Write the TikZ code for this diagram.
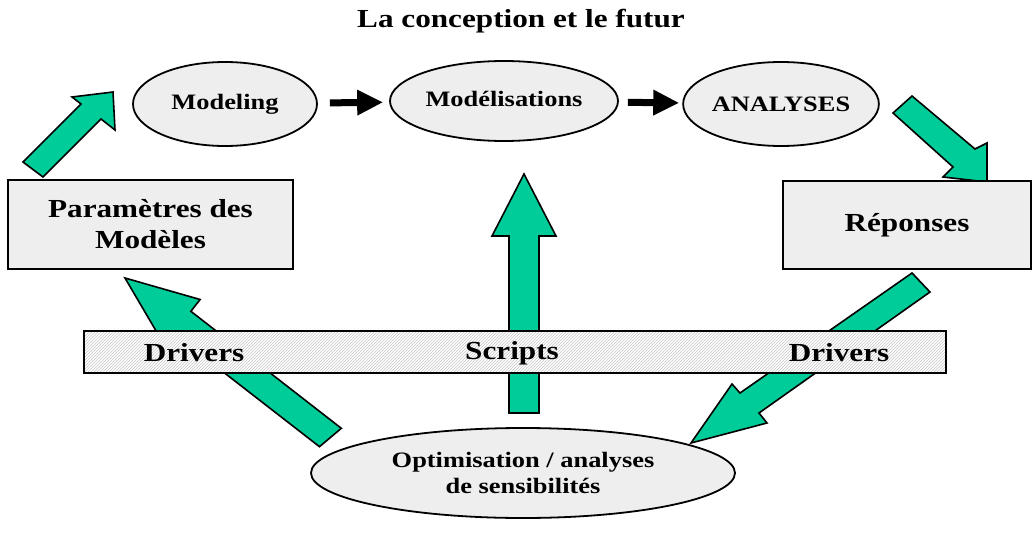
\documentclass[tikz,border=0pt]{standalone}
\usepackage{fontspec}
\setmainfont{Liberation Serif}[FakeStretch=1.2]
\usetikzlibrary{arrows.meta,shapes.geometric,patterns}
\definecolor{grn}{RGB}{0,204,153}
\definecolor{boxfill}{RGB}{238,238,238}
\begin{document}
\begin{tikzpicture}[x=1pt,y=-1pt,
  greenarrow/.style={fill=grn,draw=black,line width=1.6pt,line join=miter},
  oval/.style={ellipse,draw=black,line width=1.8pt,fill=boxfill,inner sep=0pt,font=\bfseries\fontsize{22}{26}\selectfont,align=center},
  panel/.style={rectangle,draw=black,line width=1.8pt,fill=boxfill,inner sep=0pt,font=\bfseries\fontsize{26}{31}\selectfont,align=center},
  bartext/.style={inner sep=0pt,font=\bfseries\fontsize{26}{31}\selectfont},
  hatchbar/.style={rectangle,draw=black,line width=1.8pt,preaction={fill=white},pattern=north east lines,pattern color=gray!45,inner sep=0pt},
  blackarrow/.style={line width=7pt,-{Triangle[length=26pt,width=24pt]}}]
\useasboundingbox (0,0) rectangle (1033,535);

% title
\node[inner sep=0pt,anchor=base,font=\bfseries\fontsize{26}{31}\selectfont] (title) at (521,28) {La conception et le futur};

% green block arrows
\draw[greenarrow] (23,162) -- (81,104) -- (72,97) -- (113,92) -- (115,130) -- (101,119) -- (43,177) -- cycle;
\draw[greenarrow] (893,113) -- (953,167) -- (943,177) -- (987,182) -- (987,143) -- (975,149) -- (912,96) -- cycle;
\draw[greenarrow] (509,413) -- (509,236) -- (492,236) -- (524,174) -- (556,236) -- (539,236) -- (539,413) -- cycle;
\draw[greenarrow] (319.5,446.7) -- (173.7,333.5) -- (164.5,345.3) -- (125,278) -- (200.1,299.5) -- (190.9,311.3) -- (341.3,428.3) -- cycle;
\draw[greenarrow] (912,273) -- (740,393) -- (732,384) -- (691,443) -- (767,423) -- (759,413) -- (930,292) -- cycle;

% ellipses
\node[oval,minimum width=184pt,minimum height=84pt] (modeling) at (225,104) {Modeling};
\node[oval,minimum width=228pt,minimum height=80pt] (modelis) at (504,101) {};
\node[inner sep=0pt,anchor=base,font=\bfseries\fontsize{22}{26}\selectfont] (modelistext) at (504,106) {Modélisations};
\node[oval,minimum width=192pt,minimum height=84pt] (analyses) at (781,104) {ANALYSES};
\node[oval,minimum width=424pt,minimum height=90pt] (optim) at (523,473) {Optimisation / analyses\\de sensibilités};

% boxes
\node[panel,minimum width=285pt,minimum height=89pt] (params) at (150.5,224.5) {Paramètres des\\Modèles};
\node[panel,minimum width=248pt,minimum height=88pt] (reponses) at (907,225) {Réponses};

% hatched bar
\node[hatchbar,minimum width=862pt,minimum height=42pt] (bar) at (515,352) {};
\node[bartext] (drvl) at (194,353) {Drivers};
\node[bartext] (scripts) at (512,353) {Scripts};
\node[bartext] (drvr) at (839,353) {Drivers};

% black arrows
\draw[blackarrow,shorten <=12pt,shorten >=6pt] (modeling) -- (modelis);
\draw[blackarrow,shorten <=9pt,shorten >=3pt] (modelis) -- (analyses);
\end{tikzpicture}
\end{document}
